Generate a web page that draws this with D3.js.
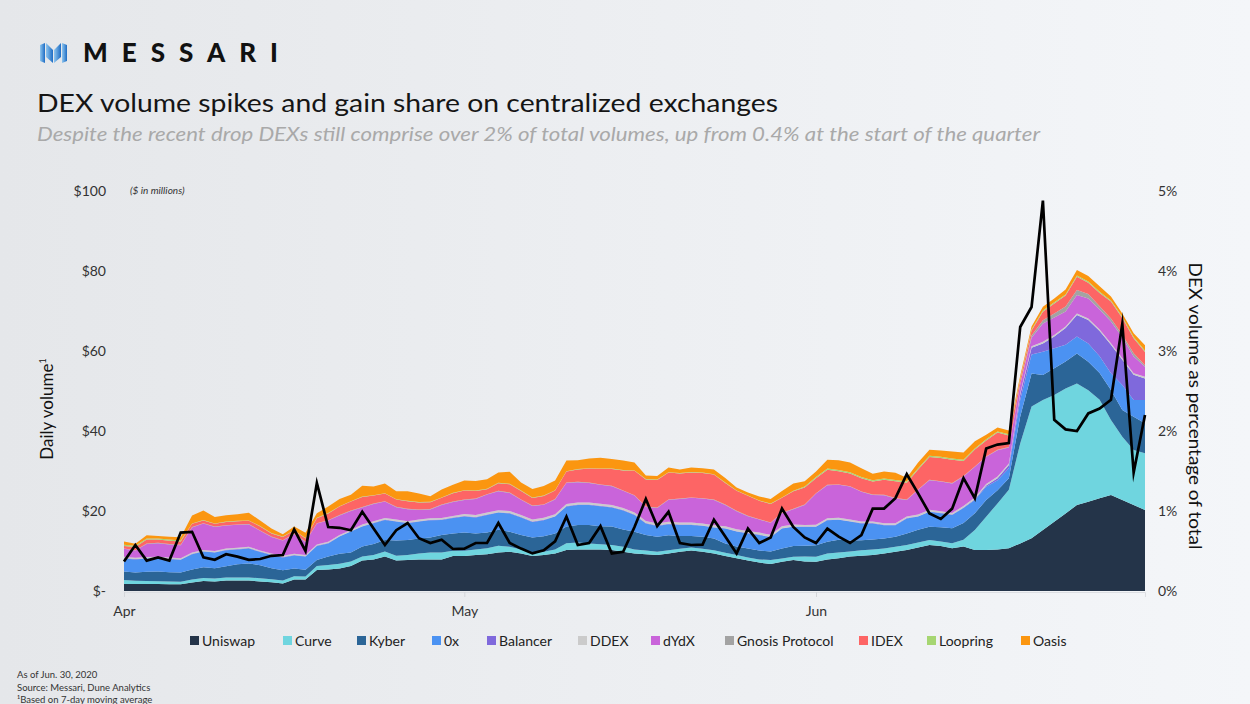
<!DOCTYPE html>
<html>
<head>
<meta charset="utf-8">
<script src="https://cdn.jsdelivr.net/npm/d3@7"></script>
<style>
  body { margin: 0; background: #eceef1; }
  text { font-family: Lato, "Open Sans", sans-serif; }
</style>
</head>
<body>
<div id="chart"></div>
<script>
// daily values, Apr 1 .. Jun 30 2020 ($ millions, 7-day avg)
var uniswap = [1.75,1.75,1.75,1.75,1.7,1.7,2.1,2.5,2.4,2.6,
  2.6,2.6,2.4,2.2,1.9,2.9,2.9,5.25,5.4,5.6,
  6.25,7.6,7.9,8.6,7.6,7.75,7.9,7.9,7.9,8.75,
  8.75,9.0,9.2,9.6,9.8,9.4,8.75,9.0,9.4,10.25,
  10.4,10.4,10.4,10.25,9.8,9.4,9.2,9.0,9.4,9.8,
  10.1,9.8,9.4,8.75,8.2,7.6,7.1,6.75,7.3,7.75,
  7.4,7.3,7.9,8.2,8.6,8.8,9.0,9.4,9.8,10.25,
  10.9,11.5,11.25,10.7,11.1,10.25,10.25,10.4,10.7,11.9,
  13.2,15.25,17.3,19.4,21.5,22.3,23.2,24.0,22.75,21.5,
  20.25];
var curve = [1.0,0.8,0.75,0.7,0.7,0.6,0.8,0.75,0.7,0.8,
  0.8,0.8,0.8,0.75,0.7,0.8,0.7,1.0,1.1,1.2,
  1.1,1.0,1.1,1.25,1.2,1.25,1.5,1.7,1.7,1.3,
  1.3,1.4,1.5,1.7,1.25,1.0,0.8,0.8,1.0,1.7,
  1.7,1.5,1.3,1.25,1.25,1.0,0.9,0.8,0.8,0.75,
  0.75,0.75,0.8,0.8,0.8,0.8,0.8,1.0,0.8,0.8,
  1.2,1.25,1.5,1.4,1.25,1.4,1.4,1.25,1.25,1.25,
  1.2,1.25,1.1,1.25,1.7,5.0,8.3,11.5,14.6,25.0,
  32.9,32.5,31.7,31.25,30.4,27.9,24.6,18.75,15.8,13.75,
  14.2];
var kyber = [2.1,2.1,2.3,2.4,2.3,2.3,2.5,2.7,2.6,2.8,
  3.3,3.5,3.25,2.75,2.6,1.9,1.7,1.5,2.1,2.5,
  2.25,2.5,2.75,2.9,3.8,3.75,3.7,3.8,4.4,4.3,
  4.6,4.0,3.9,4.0,3.75,3.6,3.8,3.9,4.0,4.2,
  4.4,4.6,4.5,4.6,4.3,4.4,3.9,3.75,3.75,3.2,
  2.9,3.0,2.9,2.3,2.1,2.25,2.2,2.1,2.5,2.7,
  2.7,2.9,2.9,3.2,2.75,2.5,2.5,2.5,2.5,2.9,
  3.2,3.3,3.6,3.75,4.2,4.2,4.2,3.3,2.9,6.7,
  8.3,6.25,6.7,6.7,7.5,7.1,6.7,7.5,6.7,8.3,
  7.5];
var zeroX = [3.3,3.25,3.3,3.3,3.25,3.2,3.8,3.9,3.9,4.0,
  3.7,3.75,3.3,3.3,3.2,3.3,3.3,3.5,3.3,4.3,
  5.25,5.0,5.2,5.0,4.75,4.2,4.25,4.3,3.75,3.9,
  4.0,4.0,4.4,4.3,4.6,4.4,3.9,4.0,4.2,5.0,
  5.0,5.0,5.0,4.8,4.8,4.2,2.9,2.7,2.75,2.75,
  2.75,2.75,2.75,3.75,3.75,3.75,3.9,3.6,5.0,4.8,
  4.7,4.6,5.4,5.0,4.75,4.2,4.0,3.3,2.9,3.75,
  3.3,3.75,3.5,3.3,3.75,3.3,3.3,2.5,2.5,4.2,
  4.7,5.8,5.0,4.2,4.2,4.6,4.2,4.2,6.25,4.2,
  5.8];
var balancer = [0.1,0.1,0.1,0.1,0.1,0.1,0.1,0.1,0.1,0.1,
  0.1,0.1,0.1,0.1,0.1,0.1,0.1,0.1,0.1,0.1,
  0.1,0.1,0.1,0.1,0.1,0.1,0.1,0.1,0.1,0.1,
  0.1,0.1,0.1,0.1,0.1,0.1,0.1,0.1,0.1,0.1,
  0.1,0.1,0.1,0.1,0.1,0.1,0.1,0.1,0.1,0.1,
  0.1,0.1,0.1,0.1,0.1,0.1,0.1,0.1,0.1,0.1,
  0.1,0.1,0.1,0.1,0.1,0.1,0.1,0.1,0.1,0.1,
  0.1,0.1,0.1,0.1,0.1,0.2,0.3,0.5,0.8,1.3,
  1.7,2.1,2.9,4.2,5.4,5.85,6.3,7.1,6.3,6.3,
  5.4];
var ddex = [0.3,0.3,0.3,0.3,0.3,0.3,0.3,0.3,0.3,0.3,
  0.3,0.3,0.3,0.3,0.3,0.3,0.3,0.3,0.3,0.3,
  0.3,0.4,0.4,0.4,0.4,0.4,0.4,0.4,0.4,0.4,
  0.5,0.5,0.5,0.5,0.5,0.5,0.5,0.5,0.5,0.5,
  0.5,0.5,0.5,0.5,0.5,0.5,0.5,0.5,0.5,0.5,
  0.5,0.5,0.5,0.5,0.5,0.5,0.5,0.5,0.5,0.5,
  0.4,0.4,0.4,0.4,0.4,0.4,0.4,0.4,0.4,0.4,
  0.4,0.4,0.4,0.4,0.4,0.4,0.4,0.4,0.4,0.4,
  0.4,0.4,0.4,0.4,0.4,0.4,0.4,0.4,0.4,0.4,
  0.4];
var dydx = [2.0,1.8,3.25,3.4,3.3,3.25,6.3,6.6,6.0,5.75,
  5.75,5.6,4.9,4.1,3.8,4.9,3.25,5.2,5.3,4.9,
  4.75,4.3,4.3,4.1,3.1,3.0,2.4,2.2,3.25,3.5,
  3.5,4.0,4.5,4.75,4.5,3.8,3.4,3.25,3.7,5.3,
  5.1,4.9,4.75,4.7,4.3,4.25,3.5,3.9,5.5,5.9,
  6.2,6.2,6.3,5.3,4.5,3.7,3.25,3.0,3.25,3.8,
  5.0,7.8,8.25,8.25,8.25,7.4,6.6,7.0,6.2,4.1,
  6.2,7.4,7.4,7.4,7.4,7.7,6.8,6.6,4.0,2.1,
  2.1,4.6,4.4,3.75,4.6,5.0,5.0,5.4,5.25,4.2,
  2.5];
var gnosis = [0.1,0.1,0.1,0.1,0.1,0.1,0.1,0.1,0.1,0.1,
  0.1,0.1,0.1,0.1,0.1,0.1,0.1,0.1,0.1,0.1,
  0.1,0.1,0.1,0.1,0.1,0.1,0.1,0.1,0.1,0.1,
  0.1,0.1,0.1,0.1,0.1,0.1,0.1,0.1,0.1,0.1,
  0.1,0.1,0.1,0.1,0.1,0.1,0.1,0.1,0.1,0.1,
  0.1,0.1,0.1,0.1,0.1,0.1,0.1,0.1,0.1,0.1,
  0.1,0.1,0.1,0.1,0.1,0.1,0.1,0.1,0.1,0.1,
  0.1,0.1,0.1,0.1,0.1,0.1,0.1,0.1,0.1,0.2,
  0.6,0.8,1.0,1.25,1.25,1.1,0.8,0.8,0.6,0.8,
  0.4];
var idex = [0.6,0.8,1.0,0.8,0.8,0.8,0.8,0.7,0.7,0.8,
  0.8,0.8,1.0,0.8,0.8,0.8,0.8,1.25,1.7,2.1,
  2.25,2.5,2.0,1.9,1.8,1.9,1.8,1.7,1.7,2.1,
  2.25,1.9,1.25,1.9,2.1,2.1,1.9,2.1,2.1,2.7,
  3.1,3.5,3.9,4.2,5.0,6.1,6.8,6.9,6.7,6.3,
  6.25,6.3,6.25,5.4,5.0,5.0,4.6,4.6,3.75,4.4,
  4.25,3.75,3.75,3.3,3.2,3.3,3.3,3.75,4.2,4.2,
  5.0,5.7,5.8,5.8,3.75,4.2,4.0,4.3,2.9,1.0,
  1.2,2.1,2.5,2.7,3.3,2.8,3.3,4.2,4.2,3.75,
  3.3];
var loopring = [0.3,0.3,0.3,0.3,0.3,0.3,0.1,0.1,0.1,0.1,
  0.1,0.1,0.1,0.1,0.1,0.1,0.1,0.1,0.1,0.1,
  0.1,0.1,0.1,0.1,0.1,0.1,0.1,0.1,0.1,0.1,
  0.1,0.1,0.1,0.1,0.1,0.1,0.1,0.1,0.1,0.1,
  0.1,0.1,0.1,0.1,0.1,0.1,0.1,0.1,0.1,0.1,
  0.1,0.1,0.1,0.1,0.1,0.1,0.1,0.1,0.1,0.1,
  0.3,0.3,0.3,0.3,0.3,0.3,0.3,0.3,0.3,0.3,
  0.3,0.3,0.3,0.3,0.3,0.3,0.3,0.3,0.3,0.3,
  0.3,0.3,0.3,0.3,0.3,0.3,0.3,0.3,0.3,0.3,
  0.3];
var oasis = [0.8,0.5,0.8,0.6,0.7,0.8,2.0,2.4,1.6,1.6,
  1.65,1.9,1.4,1.15,0.6,0.9,1.3,1.15,1.6,1.8,
  1.6,2.7,2.2,2.4,2.0,2.4,2.1,1.4,2.0,2.0,
  2.4,2.4,2.4,2.6,3.0,2.0,2.15,2.4,2.4,2.65,
  2.2,2.4,2.65,2.4,2.4,2.0,0.9,0.9,1.15,0.9,
  1.15,1.1,1.15,1.15,0.7,0.7,1.0,1.15,1.6,1.8,
  1.3,1.4,2.2,2.45,2.4,2.2,1.6,1.8,1.8,0.95,
  1.4,1.5,1.6,1.8,1.8,1.8,1.1,1.0,0.95,0.7,
  0.7,0.95,0.95,1.2,1.4,1.4,1.4,0.95,0.8,0.95,
  1.4];
// DEX volume as share of total exchange volume (%)
var dexShare = [0.37,0.575,0.38,0.42,0.38,0.73,0.74,0.42,0.39,0.46,
  0.43,0.39,0.40,0.44,0.45,0.77,0.50,1.35,0.80,0.79,
  0.76,0.99,0.78,0.575,0.76,0.85,0.66,0.60,0.64,0.525,
  0.53,0.60,0.60,0.85,0.60,0.53,0.47,0.51,0.62,0.93,
  0.575,0.60,0.81,0.47,0.49,0.80,1.15,0.81,0.99,0.60,
  0.575,0.58,0.89,0.68,0.47,0.78,0.60,0.67,1.03,0.80,
  0.67,0.60,0.78,0.68,0.60,0.70,1.03,1.03,1.16,1.46,
  1.22,0.97,0.90,1.03,1.41,1.16,1.78,1.83,1.85,3.30,
  3.55,4.88,2.14,2.02,2.00,2.22,2.28,2.39,3.34,1.48,
  2.2];

var seriesNames = ["Uniswap", "Curve", "Kyber", "0x", "Balancer", "DDEX", "dYdX",
  "Gnosis Protocol", "IDEX", "Loopring", "Oasis"];
var seriesValues = [uniswap, curve, kyber, zeroX, balancer, ddex, dydx,
  gnosis, idex, loopring, oasis];
var seriesColors = ["#243449", "#6fd5df", "#2b6597", "#4b92f2", "#7f69dc", "#cbcbcb",
  "#c964da", "#a3a3a3", "#fd6565", "#a6d672", "#fb9610"];
var leftTicks = [0, 20, 40, 60, 80, 100];
var rightTicks = [0, 0.01, 0.02, 0.03, 0.04, 0.05];
var monthTicks = [new Date(2020, 3, 1), new Date(2020, 4, 1), new Date(2020, 5, 1)];

function init() {
    var w = 1250, h = 704;
    var left = 124, right = 1145, top = 191, bottom = 591;

    var days = d3.timeDay.range(new Date(2020, 3, 1), new Date(2020, 6, 1));

    // table for d3.stack
    var table = days.map(function(d, i) {
        var row = { date: d, share: dexShare[i] / 100 };
        seriesNames.forEach(function(k, j) { row[k] = seriesValues[j][i]; });
        return row;
    });

    var svg = d3.select("#chart").append("svg")
        .attr("width", w)
        .attr("height", h);

    //background
    var defs = svg.append("defs");
    var grad = defs.append("linearGradient").attr("id", "bg")
        .attr("x1", "0").attr("x2", "1").attr("y1", "0").attr("y2", "0");
    grad.append("stop").attr("offset", "0").attr("stop-color", "#e5e7ea");
    grad.append("stop").attr("offset", "1").attr("stop-color", "#f4f6f9");
    svg.append("rect").attr("width", w).attr("height", h).attr("fill", "url(#bg)");

    var logoGrad = defs.append("linearGradient").attr("id", "logo")
        .attr("x1", "0").attr("x2", "1").attr("y1", "0").attr("y2", "0");
    logoGrad.append("stop").attr("offset", "0").attr("stop-color", "#8fc6ef");
    logoGrad.append("stop").attr("offset", "1").attr("stop-color", "#1d6cc4");

    defs.append("clipPath").attr("id", "plot")
        .append("rect").attr("x", left).attr("y", 0)
        .attr("width", right - left).attr("height", bottom);

    //logo
    var logoShapes = [
        [[40, 45], [45, 43], [45, 63], [40, 61]],
        [[46, 43], [53, 50], [53, 63], [46, 57]],
        [[54, 50], [61, 43], [61, 57], [54, 63]],
        [[62, 43], [67, 45], [67, 61], [62, 63]]
    ];
    svg.append("g").selectAll("polygon")
        .data(logoShapes)
        .enter()
        .append("polygon")
        .attr("points", function(p) { return p.join(" "); })
        .attr("fill", "url(#logo)");

    svg.append("text")
        .attr("x", 83).attr("y", 62)
        .attr("textLength", 195)
        .attr("lengthAdjust", "spacing")
        .style("font-size", "26px")
        .style("font-weight", 900)
        .attr("fill", "#111")
        .text("MESSARI");

    //titles
    svg.append("text")
        .attr("x", 37).attr("y", 112)
        .attr("textLength", 741)
        .attr("lengthAdjust", "spacingAndGlyphs")
        .style("font-size", "25px")
        .attr("fill", "#151515")
        .text("DEX volume spikes and gain share on centralized exchanges");

    svg.append("text")
        .attr("x", 37).attr("y", 141)
        .attr("textLength", 1003)
        .attr("lengthAdjust", "spacingAndGlyphs")
        .style("font-size", "19px")
        .style("font-style", "italic")
        .attr("fill", "#a9a9a9")
        .text("Despite the recent drop DEXs still comprise over 2% of  total volumes, up from 0.4% at the start of  the quarter");

    //scales
    var xScale = d3.scaleTime()
        .domain([days[0], days[days.length - 1]])
        .range([left, right]);
    var yScale = d3.scaleLinear().domain([0, 100]).range([bottom, top]);
    var yRight = d3.scaleLinear().domain([0, 0.05]).range([bottom, top]);

    //stacked areas
    var stack = d3.stack().keys(seriesNames);
    var layers = stack(table);

    var area = d3.area()
        .x(function(d) { return xScale(d.data.date); })
        .y0(function(d) { return yScale(d[0]); })
        .y1(function(d) { return yScale(d[1]); });

    svg.append("g")
        .attr("clip-path", "url(#plot)")
        .selectAll("path")
        .data(layers)
        .enter()
        .append("path")
        .attr("d", area)
        .attr("fill", function(d, i) { return seriesColors[i]; });

    //share line
    var line = d3.line()
        .x(function(d) { return xScale(d.date); })
        .y(function(d) { return yRight(d.share); });

    svg.append("path")
        .datum(table)
        .attr("d", line)
        .attr("fill", "none")
        .attr("stroke", "#000")
        .attr("stroke-width", 2.7)
        .attr("stroke-linejoin", "miter")
        .attr("stroke-miterlimit", 10);

    //axes
    var xAxis = d3.axisBottom(xScale)
        .tickValues(monthTicks)
        .tickFormat(d3.timeFormat("%b"))
        .tickSize(5)
        .tickPadding(9);
    var gx = svg.append("g")
        .attr("transform", "translate(0," + (bottom + 1) + ")")
        .call(xAxis);
    gx.select(".domain").attr("stroke", "#dcdee2");
    gx.selectAll(".tick line").attr("stroke", "#d4d6da");
    gx.selectAll(".tick text")
        .style("font-size", "14px")
        .attr("fill", "#333");

    var yAxis = d3.axisLeft(yScale)
        .tickValues(leftTicks)
        .tickFormat(function(d) { return d === 0 ? "$-" : "$" + d; })
        .tickSize(0)
        .tickPadding(18);
    var gy = svg.append("g")
        .attr("transform", "translate(" + left + ",0)")
        .call(yAxis);
    gy.select(".domain").remove();
    gy.selectAll(".tick text")
        .style("font-size", "14px")
        .attr("fill", "#333");

    var yAxisR = d3.axisRight(yRight)
        .tickValues(rightTicks)
        .tickFormat(d3.format(".0%"))
        .tickSize(0)
        .tickPadding(13);
    var gyr = svg.append("g")
        .attr("transform", "translate(" + right + ",0)")
        .call(yAxisR);
    gyr.select(".domain").remove();
    gyr.selectAll(".tick text")
        .style("font-size", "14px")
        .attr("fill", "#333");

    //axis labels
    var yLabel = svg.append("text")
        .attr("transform", "translate(53,409) rotate(-90)")
        .attr("text-anchor", "middle")
        .style("font-size", "17px")
        .attr("fill", "#111");
    yLabel.append("tspan").text("Daily volume");
    yLabel.append("tspan").attr("dy", -7).style("font-size", "9px").text("1");

    svg.append("text")
        .attr("transform", "translate(1189,406) rotate(90)")
        .attr("text-anchor", "middle")
        .attr("textLength", 287)
        .attr("lengthAdjust", "spacingAndGlyphs")
        .style("font-size", "17px")
        .attr("fill", "#111")
        .text("DEX volume as percentage of total");

    svg.append("text")
        .attr("x", 130).attr("y", 194)
        .style("font-size", "10px")
        .style("font-style", "italic")
        .attr("fill", "#333")
        .text("($ in millions)");

    //legend
    var legendX = [190, 283, 357, 432, 487, 578, 651, 725, 859, 927, 1021];
    var legend = svg.append("g").selectAll("g")
        .data(seriesNames)
        .enter()
        .append("g")
        .attr("transform", function(d, i) { return "translate(" + legendX[i] + ",641)"; });
    legend.append("rect")
        .attr("x", 0).attr("y", -5)
        .attr("width", 9).attr("height", 9)
        .attr("fill", function(d, i) { return seriesColors[i]; });
    legend.append("text")
        .attr("x", 12).attr("y", 5)
        .style("font-size", "14px")
        .attr("fill", "#222")
        .text(function(d) { return d; });

    //footnotes
    var notes = ["As of Jun. 30, 2020", "Source: Messari, Dune Analytics", "\u00b9Based on 7-day moving average"];
    svg.append("g").selectAll("text")
        .data(notes)
        .enter()
        .append("text")
        .attr("x", 17)
        .attr("y", function(d, i) { return 678 + i * 12.5; })
        .style("font-size", "9.5px")
        .attr("fill", "#333")
        .text(function(d) { return d; });
}

window.onload = init;
</script>
</body>
</html>
